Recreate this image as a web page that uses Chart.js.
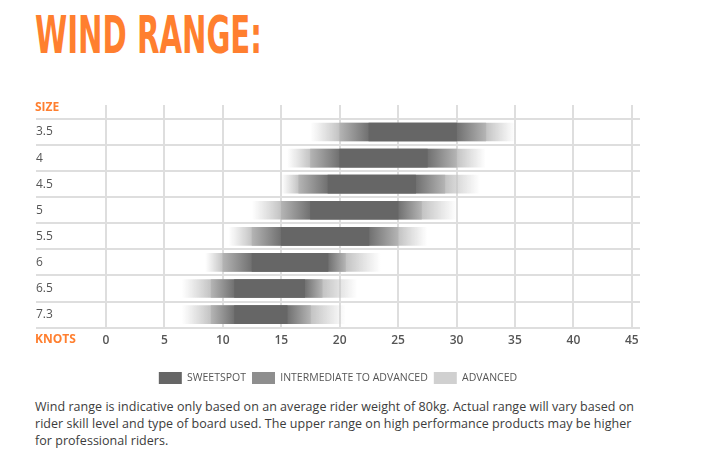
<!DOCTYPE html>
<html>
<head>
<meta charset="utf-8">
<script src="https://cdn.jsdelivr.net/npm/chart.js@4.4.1/dist/chart.umd.min.js"></script>
<style>
    body {
        margin: 0;
        background: #fff;
        width: 704px;
        height: 463px;
        overflow: hidden;
        position: relative;
        font-family: "Open Sans", sans-serif;
    }
    #titolo {
        position: absolute;
        left: 35px;
        top: 9px;
        color: #ff7f2f;
        font-family: "DejaVu Sans Condensed", "DejaVu Sans", sans-serif;
        font-stretch: condensed;
        font-weight: bold;
        font-size: 52px;
        line-height: 1;
        white-space: nowrap;
        transform-origin: left top;
    }
    #contenitore {
        position: absolute;
        left: 0;
        top: 0;
        width: 675px;
        height: 394px;
    }
    .etichetta {
        position: absolute;
        left: 35px;
        color: #ff7f2f;
        font-weight: 700;
        font-size: 12px;
        line-height: 14px;
    }
    #nota {
        position: absolute;
        left: 35px;
        top: 398px;
        font-size: 12.5px;
        line-height: 17px;
        color: #3c3c3c;
        white-space: nowrap;
    }
</style>
</head>
<body>
<div id="titolo">WIND RANGE:</div>
<div id="contenitore"><canvas id="grafico"></canvas></div>
<div class="etichetta" style="top:100px">SIZE</div>
<div class="etichetta" style="top:332px">KNOTS</div>
<div id="nota"><span id="riga1">Wind range is indicative only based on an average rider weight of 80kg. Actual range will vary based on</span><br>rider skill level and type of board used. The upper range on high performance products may be higher<br>for professional riders.</div>

<script>
    // taglie della vela e range del vento (nodi)
    var taglie = ['3.5', '4', '4.5', '5', '5.5', '6', '6.5', '7.3'];
    var avanzatoMin = [17.5, 15.5, 15, 12.5, 10.5, 8.5, 6.5, 6.5];
    var avanzatoMax = [35, 32.5, 32, 30, 27.5, 23.5, 21.5, 20.5];
    var intermedioMin = [20, 17.5, 16.5, 15, 12.5, 10, 9, 9];
    var intermedioMax = [32.5, 30, 29, 27, 25, 20.5, 18.5, 17.5];
    var sweetMin = [22.5, 20, 19, 17.5, 15, 12.5, 11, 11];
    var sweetMax = [30, 27.5, 26.5, 25, 22.5, 19, 17, 15.5];
    var nomiLegenda = ['SWEETSPOT', 'INTERMEDIATE TO ADVANCED', 'ADVANCED'];
    var coloriLegenda = ['#666666', '#8e8e8e', '#d0d0d0'];

    var grigioGriglia = '#dedede';

    // titolo: lo stringo alla larghezza dell'originale
    var titolo = document.getElementById('titolo');
    titolo.style.transform = 'scaleX(' + (227 / titolo.getBoundingClientRect().width) + ')';

    // nota: aggiusto la spaziatura per la prima riga
    var riga1 = document.getElementById('riga1');
    var larghezza = riga1.getBoundingClientRect().width;
    document.getElementById('nota').style.letterSpacing = ((599 - larghezza) / riga1.textContent.length) + 'px';

    function sfumatura(context, valori, colori) {
        var chart = context.chart;
        var x = chart.scales.x;
        if (context.type !== 'data' || !x || !chart.chartArea) {
            return colori[1];
        }
        var px = valori.map(function (v) { return x.getPixelForValue(v); });
        var w = px[px.length - 1] - px[0];
        var g = chart.ctx.createLinearGradient(px[0], 0, px[px.length - 1], 0);
        for (var i = 0; i < px.length; i++) {
            g.addColorStop(Math.min(1, Math.max(0, (px[i] - px[0]) / w)), colori[i]);
        }
        return g;
    }

    var ctx = document.getElementById('grafico');
    var chart = new Chart(ctx, {
        type: 'bar',
        data: {
            labels: taglie,
            datasets: [{
                label: nomiLegenda[0],
                data: taglie.map(function (t, i) { return [sweetMin[i], sweetMax[i]]; }),
                backgroundColor: '#666666'
            }, {
                label: nomiLegenda[1],
                data: taglie.map(function (t, i) { return [intermedioMin[i], intermedioMax[i]]; }),
                backgroundColor: function (c) {
                    var i = c.dataIndex;
                    return sfumatura(c, [intermedioMin[i], sweetMin[i], sweetMax[i], intermedioMax[i]],
                        ['#b4b4b4', '#707070', '#707070', '#b4b4b4']);
                }
            }, {
                label: nomiLegenda[2],
                data: taglie.map(function (t, i) { return [avanzatoMin[i], avanzatoMax[i]]; }),
                backgroundColor: function (c) {
                    var i = c.dataIndex;
                    return sfumatura(c, [avanzatoMin[i], intermedioMin[i], intermedioMax[i], avanzatoMax[i]],
                        ['rgba(200,200,200,0)', '#c2c2c2', '#c2c2c2', 'rgba(200,200,200,0)']);
                }
            }]
        },
        options: {
            indexAxis: 'y',
            responsive: true,
            maintainAspectRatio: false,
            animation: false,
            grouped: false,
            barThickness: 18,
            borderWidth: 0,
            borderSkipped: false,
            layout: {
                padding: { top: 105, left: 36, right: 35, bottom: 0 }
            },
            scales: {
                x: {
                    type: 'linear',
                    min: 0,
                    max: 45.7,
                    position: 'bottom',
                    afterFit: function (scale) { scale.height += 12; },
                    ticks: {
                        stepSize: 5,
                        includeBounds: false,
                        padding: 6,
                        color: '#555',
                        font: { family: 'Open Sans', size: 12, weight: '600' }
                    },
                    grid: { color: grigioGriglia, lineWidth: 2, drawTicks: false },
                    border: { display: false }
                },
                x2: {
                    type: 'linear',
                    min: 0,
                    max: 45.7,
                    position: 'top',
                    ticks: { stepSize: 5, includeBounds: false, display: false },
                    grid: { color: grigioGriglia, lineWidth: 2, drawOnChartArea: false, drawTicks: true, tickLength: 14 },
                    border: { display: false }
                },
                y: {
                    type: 'category',
                    offset: true,
                    afterFit: function (scale) { scale.width = 70; },
                    ticks: {
                        crossAlign: 'far',
                        padding: 0,
                        color: '#555',
                        font: { family: 'Open Sans', size: 12 }
                    },
                    grid: { offset: true, color: grigioGriglia, lineWidth: 2, drawTicks: true, tickLength: 70 },
                    border: { display: false }
                }
            },
            plugins: {
                legend: {
                    position: 'bottom',
                    labels: {
                        boxWidth: 23,
                        boxHeight: 12,
                        padding: 6,
                        color: '#555',
                        font: { family: 'Open Sans', size: 10.5 },
                        generateLabels: function (chart) {
                            return nomiLegenda.map(function (n, i) {
                                return {
                                    text: n,
                                    fillStyle: coloriLegenda[i],
                                    strokeStyle: coloriLegenda[i],
                                    lineWidth: 0,
                                    fontColor: '#555',
                                    datasetIndex: i
                                };
                            });
                        }
                    }
                },
                tooltip: { enabled: false }
            }
        }
    });
</script>
</body>
</html>
